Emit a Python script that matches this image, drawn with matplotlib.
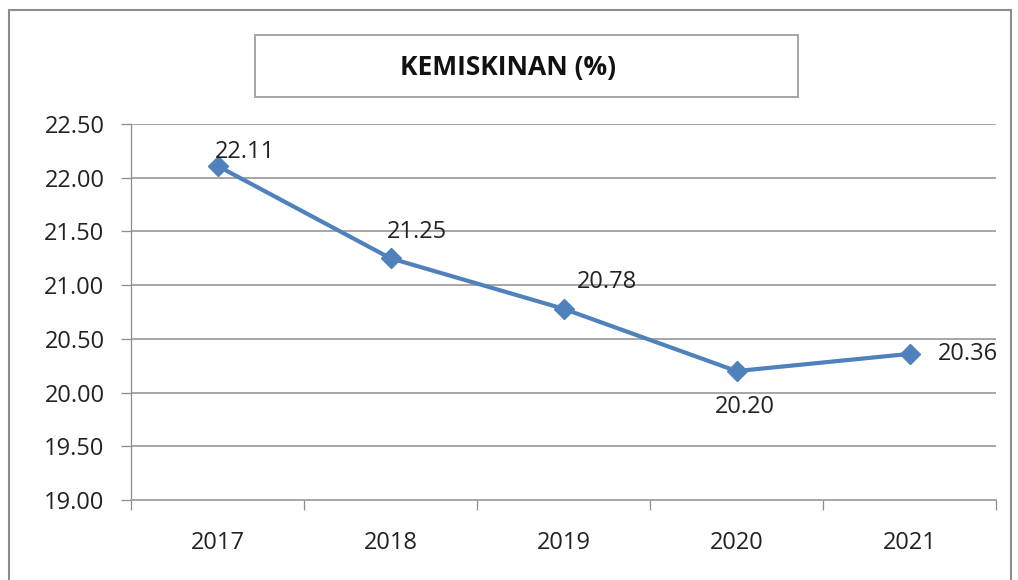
import matplotlib.pyplot as plt
from matplotlib.patches import Rectangle

# data
years = ['2017', '2018', '2019', '2020', '2021']
poverty = [22.11, 21.25, 20.78, 20.20, 20.36]
# label offsets (points) for each data label
label_offsets = [(20, 10), (19, 19), (31, 19), (6, -26), (42, 0)]

plt.rcParams['font.family'] = ['Open Sans', 'DejaVu Sans']

fig = plt.figure(figsize=(10.18, 5.8), dpi=100)
ax = fig.add_axes([131 / 1018, 1 - 500 / 580, 865 / 1018, 376 / 580])

x = list(range(len(years)))
ax.plot(x, poverty, color='#4F81BD', linewidth=3.0, marker='D',
        markersize=10.5, zorder=3)

for xi, v, off in zip(x, poverty, label_offsets):
    ax.annotate(f'{v:.2f}', (xi, v), xytext=off, textcoords='offset points',
                ha='center', va='center', fontsize=17, color='#222222')

ax.set_xlim(-0.5, 4.5)
ax.set_ylim(19.0, 22.5)
ax.set_yticks([19 + 0.5 * i for i in range(8)])
ax.set_yticklabels([f'{19 + 0.5 * i:.2f}' for i in range(8)])
ax.set_xticks(x)
ax.set_xticklabels(years)
ax.set_xticks([i - 0.5 for i in range(6)], minor=True)

ax.grid(axis='y', color='#A6A6A6', linewidth=1.4)
ax.set_axisbelow(True)
for s in ['top', 'right']:
    ax.spines[s].set_visible(False)
ax.spines['left'].set_color('#8C8C8C')
ax.spines['left'].set_linewidth(0.9)
ax.spines['bottom'].set_color('#A6A6A6')
ax.spines['bottom'].set_linewidth(1.4)

ax.tick_params(axis='y', length=7, width=0.9, color='#8C8C8C', pad=12,
               labelsize=17, labelcolor='#222222')
ax.tick_params(axis='x', which='major', length=0, pad=22, labelsize=17,
               labelcolor='#222222')
ax.tick_params(axis='x', which='minor', length=7, width=0.9, color='#8C8C8C')

# outer border
fig.patches.append(Rectangle((9 / 1018, -0.02), 1002 / 1018, 1.02 - 10 / 580,
                             transform=fig.transFigure, fill=False,
                             edgecolor='#8C8C8C', linewidth=1.5))
# title box
fig.patches.append(Rectangle((255 / 1018, 1 - 97 / 580), 543 / 1018, 62 / 580,
                             transform=fig.transFigure, fill=False,
                             edgecolor='#A6A6A6', linewidth=1.4))
fig.text(508 / 1018, 1 - 68 / 580, 'KEMISKINAN (%)',
         ha='center', va='center', fontsize=19, fontweight='bold',
         color='#111111')

fig.savefig('out.png', dpi=100)
